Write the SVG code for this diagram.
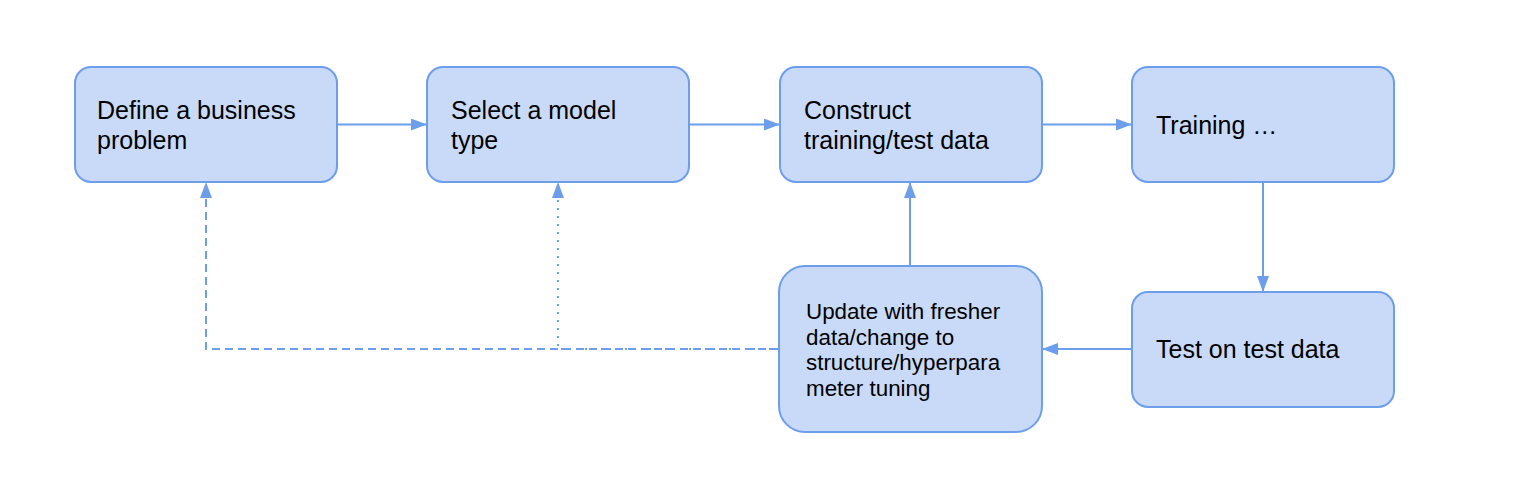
<svg xmlns="http://www.w3.org/2000/svg" width="1540" height="480" viewBox="0 0 1540 480">
<style>
.box{fill:#c9daf8;stroke:#6d9eeb;stroke-width:2}
.t{font-family:"Liberation Sans",Arial,sans-serif;font-size:25px;fill:#000}
.ts{font-family:"Liberation Sans",Arial,sans-serif;font-size:22.4px;fill:#000}
.c{fill:none;stroke:#6d9eeb;stroke-width:2}
.dash{stroke-dasharray:8,5}
.dot{stroke-dasharray:2,6}
</style>
<defs>
<marker id="ah" viewBox="0 0 16 12" refX="16" refY="6" markerWidth="16" markerHeight="12" markerUnits="userSpaceOnUse" orient="auto">
<path d="M0,0 L16,6 L0,12 Z" fill="#6d9eeb"/>
</marker>
</defs>
<rect width="1540" height="480" fill="#fff"/>
<g id="connectors">
<line class="c" x1="337" y1="124.5" x2="427" y2="124.5" marker-end="url(#ah)"/>
<line class="c" x1="689" y1="124.5" x2="780" y2="124.5" marker-end="url(#ah)"/>
<line class="c" x1="1042" y1="124.5" x2="1132" y2="124.5" marker-end="url(#ah)"/>
<line class="c" x1="1263" y1="182" x2="1263" y2="292" marker-end="url(#ah)"/>
<line class="c" x1="1132" y1="349" x2="1042" y2="349" marker-end="url(#ah)"/>
<line class="c" x1="910" y1="266" x2="910" y2="182" marker-end="url(#ah)"/>
<polyline class="c dash" points="779,349 206,349 206,182" marker-end="url(#ah)"/>
<polyline class="c dot" points="779,349 558,349 558,182" marker-end="url(#ah)"/>
</g>
<g id="n1"><rect class="box" x="75" y="67" width="262" height="115" rx="16"/>
<text class="t" x="97" y="119">Define a business</text><text class="t" x="97" y="149">problem</text></g>
<g id="n2"><rect class="box" x="427" y="67" width="262" height="115" rx="16"/>
<text class="t" x="451" y="119">Select a model</text><text class="t" x="451" y="149">type</text></g>
<g id="n3"><rect class="box" x="780" y="67" width="262" height="115" rx="16"/>
<text class="t" x="804" y="119">Construct</text><text class="t" x="804" y="149">training/test data</text></g>
<g id="n4"><rect class="box" x="1132" y="67" width="262" height="115" rx="16"/>
<text class="t" x="1156" y="134">Training …</text></g>
<g id="n5"><rect class="box" x="1132" y="292" width="262" height="115" rx="16"/>
<text class="t" x="1156" y="358">Test on test data</text></g>
<g id="n6"><rect class="box" x="779" y="266" width="263" height="166" rx="26"/>
<text class="ts" x="806" y="319">Update with fresher</text><text class="ts" x="806" y="344.5">data/change to</text><text class="ts" x="806" y="370">structure/hyperpara</text><text class="ts" x="806" y="395.5">meter tuning</text></g>
</svg>
